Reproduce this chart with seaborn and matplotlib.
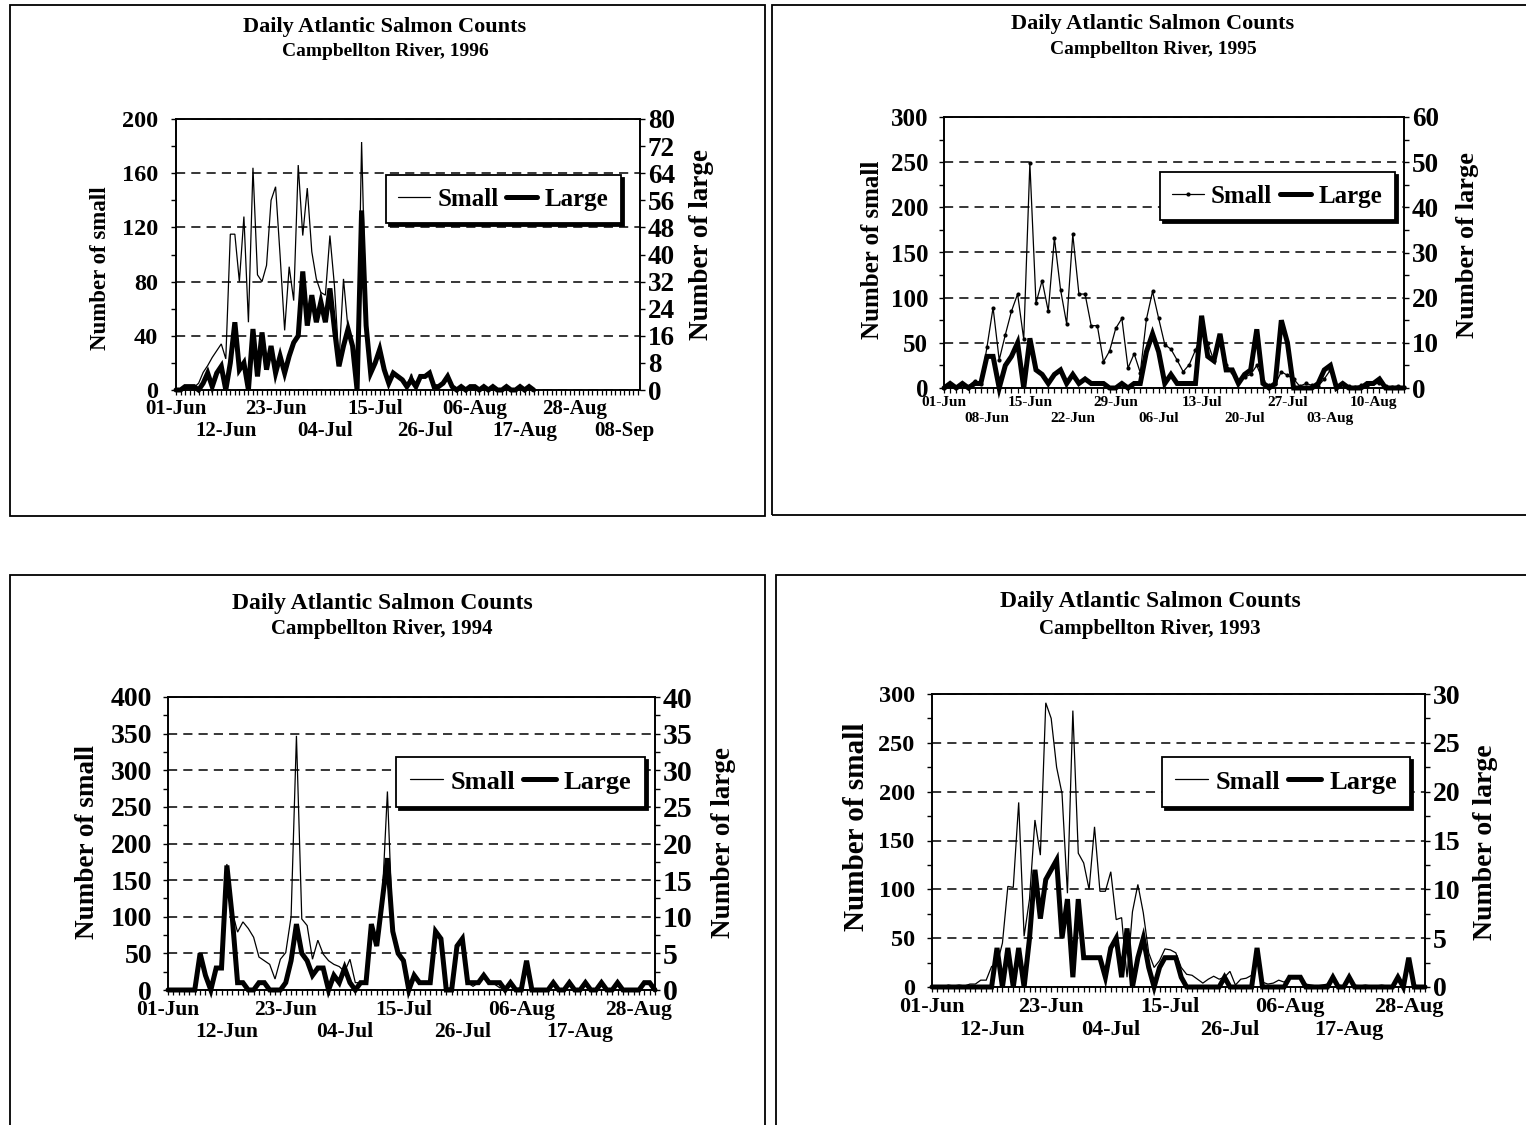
import matplotlib
matplotlib.use("Agg")
import matplotlib.pyplot as plt
import seaborn as sns
import pandas as pd
from matplotlib.lines import Line2D
from matplotlib.patches import Rectangle
from matplotlib.ticker import MultipleLocator

sns.set_theme(style="white")
plt.rcParams['font.family'] = ['Liberation Serif', 'DejaVu Serif']
plt.rcParams['font.weight'] = 'bold'
plt.rcParams['axes.labelweight'] = 'bold'
plt.rcParams['lines.solid_joinstyle'] = 'miter'
for key in ['text.color', 'axes.labelcolor', 'xtick.color', 'ytick.color', 'axes.edgecolor']:
    plt.rcParams[key] = 'black'

# ---------------- data (daily counts starting 01-Jun) ----------------
title_main = "Daily Atlantic Salmon Counts"
subtitle_1996 = "Campbellton River, 1996"
subtitle_1995 = "Campbellton River, 1995"
subtitle_1994 = "Campbellton River, 1994"
subtitle_1993 = "Campbellton River, 1993"

small_1996 = [0, 1, 2, 1, 2, 5, 13, 18, 24, 29,
              34, 23, 115, 115, 80, 128, 50, 164, 85, 80,
              92, 140, 150, 99, 44, 91, 66, 166, 114, 149,
              102, 82, 72, 70, 114, 77, 21, 82, 45, 30,
              1, 183, 50, 12, 20, 31, 15, 6, 13, 10,
              8, 3, 12, 1, 10, 10, 12, 3, 3, 5,
              8, 2, 1, 2, 1, 1, 2, 1, 2, 1,
              2, 1, 1, 2, 1, 1, 2, 1, 2, 0]
large_1996 = [0, 0, 1, 1, 1, 0, 2, 5, 1, 5,
              7, 0, 8, 20, 6, 8, 0, 18, 4, 17,
              6, 13, 5, 10, 5, 10, 14, 16, 35, 19,
              28, 20, 26, 20, 30, 18, 7, 13, 18, 13,
              0, 53, 19, 5, 8, 12, 6, 2, 5, 4,
              3, 1, 3, 1, 4, 4, 5, 1, 1, 2,
              4, 1, 0, 1, 0, 1, 1, 0, 1, 0,
              1, 0, 0, 1, 0, 0, 1, 0, 1, 0]

small_1995 = [0, 3, 1, 4, 2, 8, 4, 45, 89, 31,
              59, 85, 104, 54, 249, 94, 119, 85, 166, 109,
              71, 170, 104, 104, 69, 69, 29, 41, 66, 77,
              22, 38, 17, 76, 107, 77, 48, 43, 31, 18,
              26, 42, 60, 50, 30, 55, 25, 18, 8, 12,
              15, 25, 8, 3, 4, 18, 14, 10, 2, 5,
              3, 2, 10, 20, 2, 4, 2, 1, 3, 2,
              5, 5, 2, 1, 2, 1]
large_1995 = [0, 1, 0, 1, 0, 1, 1, 7, 7, 0,
              5, 7, 10, 0, 11, 4, 3, 1, 3, 4,
              1, 3, 1, 2, 1, 1, 1, 0, 0, 1,
              0, 1, 1, 8, 12, 8, 1, 3, 1, 1,
              1, 1, 16, 7, 6, 12, 4, 4, 1, 3,
              4, 13, 1, 0, 1, 15, 10, 0, 0, 0,
              0, 1, 4, 5, 0, 1, 0, 0, 0, 1,
              1, 2, 0, 0, 0, 0]

small_1994 = [0, 0, 0, 0, 0, 0, 50, 20, 3, 30,
              30, 172, 107, 79, 93, 84, 72, 45, 40, 35,
              15, 42, 51, 100, 347, 97, 88, 42, 68, 49,
              40, 35, 32, 25, 42, 10, 10, 10, 90, 60,
              120, 271, 80, 50, 40, 2, 20, 12, 10, 12,
              80, 70, 2, 3, 60, 72, 10, 5, 10, 22,
              10, 8, 3, 3, 10, 2, 3, 38, 1, 0,
              1, 0, 10, 0, 1, 10, 0, 0, 10, 1,
              0, 10, 0, 1, 10, 0, 0, 1, 2, 10,
              10, 0]
large_1994 = [0, 0, 0, 0, 0, 0, 5, 2, 0, 3,
              3, 17, 10, 1, 1, 0, 0, 1, 1, 0,
              0, 0, 1, 4, 9, 5, 4, 2, 3, 3,
              0, 2, 1, 3, 1, 0, 1, 1, 9, 6,
              12, 18, 8, 5, 4, 0, 2, 1, 1, 1,
              8, 7, 0, 0, 6, 7, 1, 1, 1, 2,
              1, 1, 1, 0, 1, 0, 0, 4, 0, 0,
              0, 0, 1, 0, 0, 1, 0, 0, 1, 0,
              0, 1, 0, 0, 1, 0, 0, 0, 0, 1,
              1, 0]

small_1993 = [0, 1, 0, 2, 1, 2, 1, 3, 3, 7,
              7, 21, 23, 45, 103, 102, 189, 52, 90, 171,
              135, 291, 275, 225, 198, 96, 283, 137, 127, 100,
              164, 98, 98, 118, 69, 71, 10, 77, 105, 76,
              35, 20, 27, 39, 38, 35, 20, 13, 12, 8,
              4, 8, 11, 8, 10, 16, 2, 8, 9, 12,
              39, 5, 3, 4, 7, 5, 10, 10, 9, 3,
              2, 1, 2, 3, 10, 2, 1, 10, 2, 1,
              2, 1, 1, 2, 1, 1, 10, 2, 25, 2,
              1, 1]
large_1993 = [0, 0, 0, 0, 0, 0, 0, 0, 0, 0,
              0, 0, 4, 0, 4, 0, 4, 0, 5, 12,
              7, 11, 12, 13, 5, 9, 1, 9, 3, 3,
              3, 3, 1, 4, 5, 1, 6, 0, 3, 5,
              2, 0, 2, 3, 3, 3, 1, 0, 0, 0,
              0, 0, 0, 0, 1, 0, 0, 0, 0, 0,
              4, 0, 0, 0, 0, 0, 1, 1, 1, 0,
              0, 0, 0, 0, 1, 0, 0, 1, 0, 0,
              0, 0, 0, 0, 0, 0, 1, 0, 3, 0,
              0, 0]

xlabels_11 = ["01-Jun", "12-Jun", "23-Jun", "04-Jul", "15-Jul",
              "26-Jul", "06-Aug", "17-Aug", "28-Aug", "08-Sep"]
xlabels_7 = ["01-Jun", "08-Jun", "15-Jun", "22-Jun", "29-Jun", "06-Jul",
             "13-Jul", "20-Jul", "27-Jul", "03-Aug", "10-Aug"]

# ---------------- layout ----------------
W, H = 1526, 1125
fig = plt.figure(figsize=(W / 100, H / 100), dpi=100)
fig.patch.set_facecolor('white')


def frac_rect(l, t, r, b):
    return [l / W, 1 - b / H, (r - l) / W, (b - t) / H]


def draw_panel(p):
    l, t, r, b = p['axes']
    bl, bt, br, bb = p['box']
    fig.add_artist(Rectangle((bl / W, 1 - bb / H), (br - bl) / W, (bb - bt) / H,
                             transform=fig.transFigure, fill=False,
                             edgecolor='black', linewidth=1.3))
    fig.text(p['title_xy'][0] / W, 1 - p['title_xy'][1] / H, title_main,
             ha='center', va='center', fontsize=p['tfs'], fontweight='bold')
    fig.text(p['sub_xy'][0] / W, 1 - p['sub_xy'][1] / H, p['subtitle'],
             ha='center', va='center', fontsize=p['sfs'], fontweight='bold')

    ax = fig.add_axes(frac_rect(l, t, r, b))
    ax2 = ax.twinx()
    n = len(p['small'])
    df = pd.DataFrame({'day': list(range(n)), 'small': p['small'], 'large': p['large']})
    kw_small = dict(color='black', linewidth=0.9, estimator=None, clip_on=False)
    if p.get('marker'):
        kw_small.update(marker='o', markersize=p['marker'], markeredgewidth=0)
    sns.lineplot(data=df, x='day', y='small', ax=ax, **kw_small)
    sns.lineplot(data=df, x='day', y='large', ax=ax2, color='black',
                 linewidth=3.6, estimator=None, clip_on=False)

    ax.set_xlim(0, p['xmax'])
    ax.set_ylim(0, p['ymax_s'])
    ax2.set_ylim(0, p['ymax_l'])
    ax.yaxis.set_major_locator(MultipleLocator(p['step_s']))
    ax.yaxis.set_minor_locator(MultipleLocator(p['minor_s']))
    ax2.yaxis.set_major_locator(MultipleLocator(p['step_l']))
    if p['minor_l']:
        ax2.yaxis.set_minor_locator(MultipleLocator(p['minor_l']))

    # staggered date labels: first row on the main axis, second row on a secondary axis
    ticks = p['xticks']
    labs = p['xlabels']
    ax.set_xticks(ticks[0::2])
    ax.set_xticklabels(labs[0::2])
    ax.xaxis.set_minor_locator(MultipleLocator(1))
    sec = ax.secondary_xaxis('bottom')
    sec.set_xticks(ticks[1::2])
    sec.set_xticklabels(labs[1::2])
    sec.tick_params(axis='x', length=0, labelsize=p['xfs'], pad=p['xpad'] + p['row2'],
                    colors='black')
    sec.spines['bottom'].set_visible(False)

    ax.grid(True, axis='y', which='major', color='black',
            linestyle=(0, (6, 4)), linewidth=1.1)
    ax.grid(False, axis='x')

    for a in (ax, ax2):
        for sp in a.spines.values():
            sp.set_color('black')
            sp.set_linewidth(1.2)
    ax.tick_params(axis='y', which='both', left=True, right=False, direction='out',
                   length=3.5, width=1, colors='black', labelsize=p['yfs'], pad=p['ypad'])
    ax.tick_params(axis='x', which='both', bottom=True, direction='out',
                   length=3.5, width=0.9, colors='black', labelsize=p['xfs'], pad=p['xpad'])
    ax2.tick_params(axis='y', which='both', right=True, left=False, direction='out',
                    length=3.5, width=1, colors='black', labelsize=p['yfs_r'], pad=2)
    ax2.tick_params(axis='x', which='both', bottom=False, top=False)

    ax.set_xlabel('')
    ax2.set_xlabel('')
    ax.set_ylabel('Number of small', fontsize=p['lfs'], fontweight='bold', va='center')
    ax2.set_ylabel('Number of large', fontsize=p['lfs_r'], fontweight='bold', va='center')
    cx, cy = p['ylab_l']
    ax.yaxis.set_label_coords((cx - l) / (r - l), (b - cy) / (b - t))
    cx, cy = p['ylab_r']
    ax2.yaxis.set_label_coords((cx - l) / (r - l), (b - cy) / (b - t))

    h_small = Line2D([], [], color='black', linewidth=0.9,
                     marker='o' if p.get('marker') else None,
                     markersize=p.get('marker', 0), markeredgewidth=0)
    h_large = Line2D([], [], color='black', linewidth=3.6)
    leg = ax2.legend([h_small, h_large], ['Small', 'Large'], ncol=2,
                     loc='upper right', bbox_to_anchor=p['leg'],
                     frameon=True, fancybox=False, framealpha=1,
                     edgecolor='black', fontsize=p['legfs'],
                     shadow={'color': 'black', 'alpha': 1},
                     handlelength=1.25, handletextpad=0.3,
                     columnspacing=0.3, borderpad=0.5, borderaxespad=0)
    leg.get_frame().set_linewidth(1.3)


panels = [
    dict(axes=(176, 119, 640, 390), box=(10, 5, 765, 516),
         title_xy=(385, 27), sub_xy=(385, 52), subtitle=subtitle_1996, tfs=16, sfs=14,
         small=small_1996, large=large_1996,
         ymax_s=200, step_s=40, minor_s=20, ymax_l=80, step_l=8, minor_l=None,
         xmax=102.5, xticks=list(range(0, 100, 11)), xlabels=xlabels_11,
         xfs=15, xpad=3, row2=19, yfs=17.5, yfs_r=19.5, ypad=9.5,
         lfs=16.5, lfs_r=19.5, legfs=18,
         ylab_l=(100, 268), ylab_r=(702, 245), leg=(0.959, 0.793)),
    dict(axes=(944, 117, 1404, 388), box=(772, 5, 1530, 515),
         title_xy=(1153, 24), sub_xy=(1153, 50), subtitle=subtitle_1995, tfs=16, sfs=14,
         small=small_1995, large=large_1995, marker=3,
         ymax_s=300, step_s=50, minor_s=25, ymax_l=60, step_l=10, minor_l=5,
         xmax=75, xticks=list(range(0, 71, 7)), xlabels=xlabels_7,
         xfs=11, xpad=2, row2=15.5, yfs=18, yfs_r=19.5, ypad=8,
         lfs=18, lfs_r=19, legfs=18,
         ylab_l=(872, 250), ylab_r=(1467, 245), leg=(0.980, 0.797)),
    dict(axes=(168, 697, 655, 990), box=(10, 575, 765, 1130),
         title_xy=(382, 603), sub_xy=(382, 629), subtitle=subtitle_1994, tfs=17, sfs=15,
         small=small_1994, large=large_1994,
         ymax_s=400, step_s=50, minor_s=25, ymax_l=40, step_l=5, minor_l=2.5,
         xmax=91, xticks=list(range(0, 89, 11)), xlabels=xlabels_11[:9],
         xfs=15.5, xpad=3.5, row2=19.5, yfs=20, yfs_r=21.5, ypad=8,
         lfs=19.5, lfs_r=19.5, legfs=19,
         ylab_l=(88, 842), ylab_r=(723, 842), leg=(0.979, 0.795)),
    dict(axes=(932, 694, 1425, 987), box=(776, 575, 1530, 1130),
         title_xy=(1150, 602), sub_xy=(1150, 629), subtitle=subtitle_1993, tfs=17, sfs=15,
         small=small_1993, large=large_1993,
         ymax_s=300, step_s=50, minor_s=25, ymax_l=30, step_l=5, minor_l=2.5,
         xmax=91, xticks=list(range(0, 89, 11)), xlabels=xlabels_11[:9],
         xfs=16, xpad=3.5, row2=20.5, yfs=17.5, yfs_r=20, ypad=9,
         lfs=21, lfs_r=20, legfs=19,
         ylab_l=(857, 827), ylab_r=(1485, 842), leg=(0.970, 0.785)),
]

for p in panels:
    draw_panel(p)

fig.savefig("out.png", dpi=100, facecolor='white')
